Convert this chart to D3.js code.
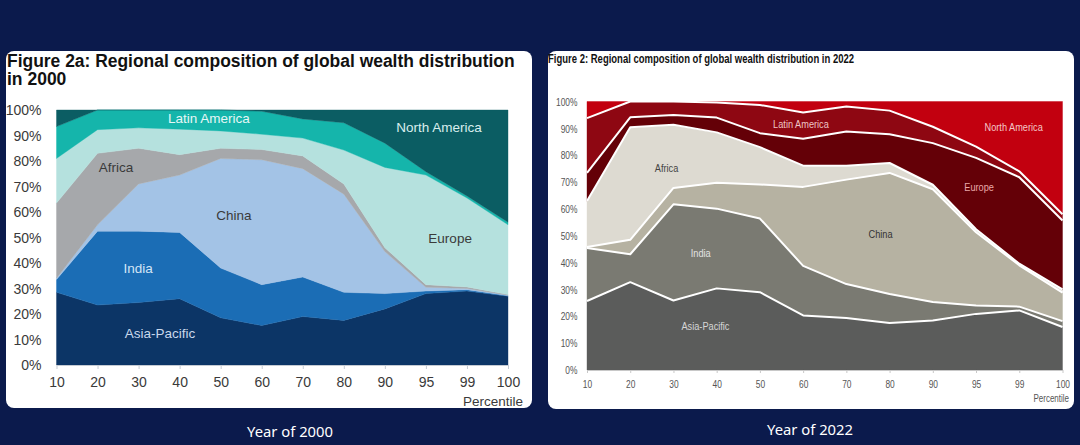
<!DOCTYPE html>
<html><head><meta charset="utf-8">
<script src="https://cdn.jsdelivr.net/npm/d3@7"></script>
<style>body{margin:0;background:#0b1a4c;}svg{display:block}</style>
</head><body><svg id="c" width="1080" height="445"></svg>
<script>
// ---------- DATA ----------
const percentiles = ["10","20","30","40","50","60","70","80","90","95","99","100"];
const regions = ["Asia-Pacific","India","China","Africa","Europe","Latin America","North America"];
const yTicks = [0,10,20,30,40,50,60,70,80,90,100];

// Year 2000 shares (%) per percentile
const asiaPacific2000  = [28.5, 23.5, 24.5, 26, 18.5, 15.5, 19, 17.5, 22, 28, 29, 27];
const india2000        = [5, 29, 28, 26, 19.5, 16, 15.5, 11, 6, 1, 0.5, 0.2];
const china2000        = [0.5, 2.5, 18.5, 22.5, 43, 49, 42.5, 38.5, 16.5, 1.5, 0.5, 0.2];
const africa2000       = [29.5, 28, 14, 8, 4, 4, 5, 4, 1.5, 1, 0.6, 0.2];
const europe2000       = [17.5, 9.3, 8, 10, 6.8, 6, 7, 13.3, 31.5, 43, 34.9, 27.4];
const latinAmerica2000 = [12.5, 7.7, 7, 7.5, 8.2, 9, 7.5, 10.7, 9.5, 1.3, 0.8, 1];
const northAmerica2000 = [6.5, 0, 0, 0, 0, 0.5, 3.5, 5, 13, 24.2, 33.7, 44];

// Year 2022 shares (%) per percentile
const asiaPacific2022  = [25.7, 32.7, 25.9, 30.4, 29, 20.3, 19.4, 17.5, 18.4, 20.9, 22.2, 16];
const india2022        = [19.7, 10.4, 35.8, 29.7, 27.4, 18.5, 12.6, 10.8, 6.9, 3.1, 1.4, 2.2];
const china2022        = [0.4, 5.4, 6.1, 9.6, 12.7, 29.4, 38.9, 45.1, 42, 27.3, 15.4, 10.6];
const africa2022       = [17.1, 41.9, 23.5, 18.8, 13.9, 7.9, 5.2, 3.7, 1.7, 1.1, 0.6, 1.2];
const europe2022       = [10.5, 3.7, 3.7, 5.5, 5.2, 10, 12.7, 10.7, 15.5, 26.6, 32.2, 25.7];
const latinAmerica2022 = [20.4, 5.9, 5, 5.6, 10.5, 9.8, 9.3, 8.8, 6.1, 4.2, 2.2, 2.3];
const northAmerica2022 = [6.2, 0, 0, 0.4, 1.3, 4.1, 1.9, 3.4, 9.4, 16.8, 26, 42];

const title2000a = "Figure 2a: Regional composition of global wealth distribution";
const title2000b = "in 2000";
const title2022 = "Figure 2: Regional composition of global wealth distribution in 2022";
const caption2000 = "Year of 2000";
const caption2022 = "Year of 2022";
const xAxisTitle = "Percentile";

// ---------- DRAW ----------
const svg = d3.select("#c");
svg.append("rect").attr("width",1080).attr("height",445).attr("fill","#0b1a4c");

function addText(parent, x, y, s, txt){
  return parent.append("text").attr("transform",`translate(${x},${y}) scale(${s},1)`).text(txt);
}

function drawChart(o){
  const s = o.condense;
  const g = svg.append("g");
  g.append("rect").attr("x",o.panel[0]).attr("y",o.panel[1]).attr("width",o.panel[2]).attr("height",o.panel[3])
    .attr("rx",8).attr("fill","#fff");
  const x = d3.scalePoint().domain(percentiles).range([o.x0,o.x1]);
  const xi = d3.scaleLinear().domain([0,percentiles.length-1]).range([o.x0,o.x1]);
  const y = d3.scaleLinear().domain([0,100]).range([o.y0,o.y1]);
  const rows = percentiles.map((p,i)=>{const r={p}; regions.forEach((k,j)=>r[k]=o.series[j][i]); return r;});
  const stacked = d3.stack().keys(regions)(rows);
  const area = d3.area().x(d=>x(d.data.p)).y0(d=>y(d[0])).y1(d=>y(d[1]));
  g.selectAll("path.a").data(stacked).join("path").attr("class","a")
    .attr("d",area).attr("fill",(d,i)=>o.colors[i]).attr("stroke",(d,i)=>o.colors[i]).attr("stroke-width",0.4);
  if (o.whiteLines){
    const line = d3.line().x(d=>x(d.data.p)).y(d=>y(d[1]));
    g.selectAll("path.l").data(stacked.slice(0,-1)).join("path").attr("class","l")
      .attr("d",line).attr("fill","none").attr("stroke","#fff").attr("stroke-width",o.whiteLines)
      .attr("stroke-linejoin","round");
  }
  // x axis
  const ax = g.append("g").attr("transform",`translate(0,${o.y0})`)
    .call(d3.axisBottom(x).tickSize(o.tickLen).tickSizeOuter(0));
  ax.select(".domain").attr("stroke",o.axisColor).attr("stroke-width",1.2);
  ax.selectAll(".tick line").attr("stroke",o.axisColor);
  ax.selectAll(".tick text").attr("y",0).attr("dy",0)
    .attr("transform",`translate(0,${o.xLabelDy}) scale(${s},1)`)
    .attr("font-family",o.font).attr("font-size",o.tickFs).attr("fill",o.textColor);
  // y axis labels
  const ay = g.append("g").attr("transform",`translate(${o.yLabelX},0)`)
    .call(d3.axisLeft(y).tickValues(yTicks).tickFormat(d=>d+"%").tickSize(0).tickPadding(0));
  ay.select(".domain").remove();
  ay.selectAll(".tick text").attr("x",0).attr("font-family",o.font).attr("font-size",o.tickFs).attr("fill",o.textColor)
    .attr("dy","0.35em").attr("transform",`scale(${s},1)`);
  // percentile
  addText(g,o.pctX,o.pctY,s,xAxisTitle).attr("text-anchor","end")
    .attr("font-family",o.font).attr("font-size",o.pctFs).attr("fill",o.textColor);
  // series labels
  o.labels.forEach(l=>{
    addText(g,xi(l.i),y(l.v),s,l.t).attr("text-anchor","middle")
      .attr("font-family",o.font).attr("font-size",o.labelFs).attr("fill",l.c);
  });
  // titles
  o.titles.forEach(t=>{
    const tt = addText(g,t.x,t.y,s,t.t).attr("font-family",o.font)
      .attr("font-weight","bold").attr("font-size",t.fs).attr("fill","#111");
    if (t.w){
      const L = tt.node().getComputedTextLength();
      tt.attr("font-size",(t.fs*t.w/(L*s)).toFixed(2));
    }
  });
  // caption
  const cap = svg.append("text").attr("x",o.capX).attr("y",o.capY).attr("text-anchor","middle")
    .attr("font-family","'Noto Sans', 'Open Sans', sans-serif").attr("font-size",15).attr("fill","#fff").text(o.caption);
  const L = cap.node().getComputedTextLength();
  cap.attr("font-size",(15*86/L).toFixed(2));
}

drawChart({
  panel:[6,51,526,357], x0:56.5, x1:508, y0:365, y1:110, condense:1,
  series:[asiaPacific2000,india2000,china2000,africa2000,europe2000,latinAmerica2000,northAmerica2000],
  colors:["#0c3566","#1b6db5","#a3c3e6","#a6a8ab","#b5e1de","#15b5ab","#0b5d63"],
  whiteLines:0, tickLen:4, axisColor:"#c5cbd3", xLabelDy:22, tickFs:14, textColor:"#3a3a3a",
  font:"'Liberation Sans', Arial, sans-serif",
  yLabelX:41.5, pctX:523, pctY:406, pctFs:13.5, labelFs:13.5,
  labels:[
    {t:"Latin America", i:3.71, v:94.8, c:"#e6f7f6"},
    {t:"North America", i:9.32, v:91.4, c:"#d9eeee"},
    {t:"Africa", i:1.45, v:75.8, c:"#3a3a3a"},
    {t:"China", i:4.32, v:56.9, c:"#3a3a3a"},
    {t:"Europe", i:9.59, v:47.7, c:"#3a3a3a"},
    {t:"India", i:1.99, v:36.2, c:"#d3e5f5"},
    {t:"Asia-Pacific", i:2.52, v:10.5, c:"#c9d8ec"}
  ],
  titles:[{t:title2000a,x:7,y:67,fs:17.5,w:508},{t:title2000b,x:7,y:85,fs:17.5}],
  caption:caption2000, capX:290, capY:436.5
});

drawChart({
  panel:[548,51,526,358], x0:587, x1:1062.5, y0:370, y1:101.5, condense:0.8,
  series:[asiaPacific2022,india2022,china2022,africa2022,europe2022,latinAmerica2022,northAmerica2022],
  colors:["#5b5c5b","#7a7a72","#b6b2a2","#dddad1","#640007","#8e0712","#c2000f"],
  whiteLines:2, tickLen:3, axisColor:"#c8c8c8", xLabelDy:17.5, tickFs:10.5, textColor:"#555",
  font:"'Liberation Sans', Arial, sans-serif",
  yLabelX:577.5, pctX:1069, pctY:401.5, pctFs:10, labelFs:11.5,
  labels:[
    {t:"Latin America", i:4.95, v:90.0, c:"#efc4c4"},
    {t:"North America", i:9.87, v:89.1, c:"#f4c6c6"},
    {t:"Africa", i:1.84, v:73.6, c:"#444"},
    {t:"Europe", i:9.07, v:66.8, c:"#e9a9a9"},
    {t:"China", i:6.79, v:49.1, c:"#333"},
    {t:"India", i:2.63, v:42.0, c:"#e2e2e2"},
    {t:"Asia-Pacific", i:2.74, v:14.9, c:"#d6d6d6"}
  ],
  titles:[{t:title2022,x:548,y:63.3,fs:11,w:306}],
  caption:caption2022, capX:810, capY:435
});
</script></body></html>
